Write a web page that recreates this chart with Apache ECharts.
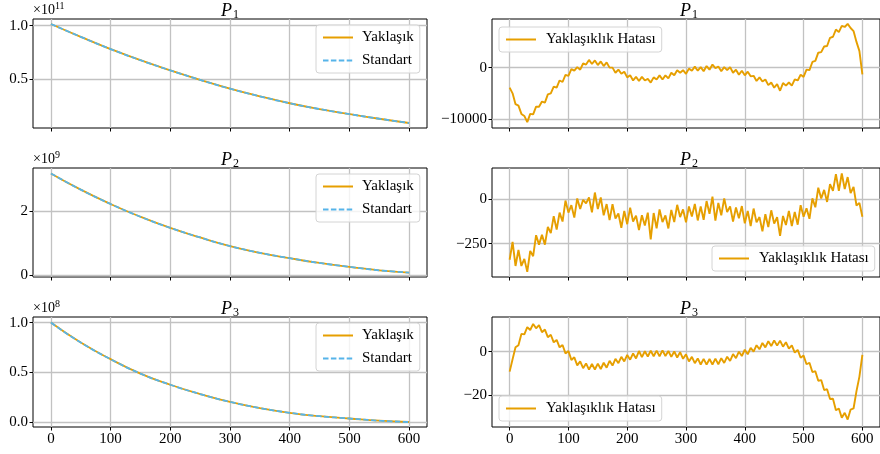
<!DOCTYPE html>
<html><head><meta charset="utf-8">
<script src="https://cdn.jsdelivr.net/npm/echarts@6/dist/echarts.min.js"></script>
<style>html,body{margin:0;padding:0;background:#fff}#c{width:880px;height:454px}</style>
</head><body><div id="c"></div><script>
// ---------- data ----------
const xDecay = [0,50,100,150,200,250,300,350,400,450,500,550,600];
// left column, values in units of the axis multiplier
const p1Approx   = [1.016,0.895,0.78,0.675,0.58,0.49,0.407,0.335,0.27,0.215,0.168,0.124,0.084];
const p1Standard = [1.016,0.895,0.78,0.675,0.58,0.49,0.407,0.335,0.27,0.215,0.168,0.124,0.084];
const p2Approx   = [3.19,2.68,2.23,1.83,1.48,1.18,0.91,0.70,0.53,0.38,0.26,0.15,0.08];
const p2Standard = [3.19,2.68,2.23,1.83,1.48,1.18,0.91,0.70,0.53,0.38,0.26,0.15,0.08];
const p3Approx   = [1.0,0.80,0.634,0.49,0.378,0.285,0.206,0.145,0.097,0.063,0.04,0.018,0.005];
const p3Standard = [1.0,0.80,0.634,0.49,0.378,0.285,0.206,0.145,0.097,0.063,0.04,0.018,0.005];
const multipliers = [['×10','11'],['×10','9'],['×10','8']];
const panelTitles = [['P','1'],['P','2'],['P','3']];
const xTicks = [0,100,200,300,400,500,600];
const errStep = 5;
const p1Err = [-3900,-5000,-7100,-7400,-9000,-9400,-10600,-9000,-9100,-7600,
 -7600,-6600,-6800,-5200,-5000,-3700,-3900,-2500,-2800,-1400,
 -1600,-300,-600,100,-400,800,600,1500,700,1400,
 500,1200,300,1000,0,0,-1000,-400,-1200,-800,
 -1900,-1500,-2500,-1800,-2600,-1800,-2500,-2200,-2900,-1900,
 -2300,-1500,-2300,-1500,-2100,-1000,-1500,-500,-1000,-500,
 -1200,-200,-600,200,-600,100,-700,300,-400,600,
 -100,200,-700,100,-500,100,-1000,-400,-1400,-600,
 -1500,-800,-1700,-1600,-2600,-1900,-2700,-2300,-3400,-2900,
 -3900,-3200,-4500,-3000,-3500,-2900,-3500,-2300,-2500,-1400,
 -1800,-400,-500,1100,1300,2900,3000,4100,4200,5800,
 6000,7400,6900,8100,7900,8500,7700,7100,5000,3200,
 -1300];
const p2Err = [-340,-240,-375,-285,-375,-335,-408,-290,-320,-202,
 -255,-200,-255,-155,-190,-95,-170,-75,-125,-7,
 -75,-33,-103,5,-55,-3,-23,10,-73,38,
 -55,10,-90,-27,-117,-27,-108,-80,-160,-66,
 -140,-47,-125,-92,-173,-90,-147,-75,-226,-77,
 -163,-57,-128,-91,-164,-60,-128,-31,-100,-57,
 -130,-40,-97,-26,-119,-40,-115,-10,-82,15,
 -120,-20,-90,5,-72,-40,-125,-46,-107,-38,
 -135,-65,-150,-52,-130,-100,-180,-84,-156,-62,
 -137,-101,-206,-94,-145,-65,-150,-71,-143,-33,
 -98,-50,-110,5,-45,65,5,53,-15,85,
 47,142,48,145,58,125,35,70,-35,-20,
 -98];
const p3Err = [-9.2,-3.5,2.0,3.0,8.2,8.0,11.3,10.0,12.8,10.8,
 12.3,9.0,10.2,6.7,7.8,4.3,5.4,2.0,3.1,-0.8,
 0.3,-3.8,-2.6,-6.3,-4.5,-7.6,-5.4,-8.3,-5.7,-8.2,
 -5.5,-8.0,-5.1,-7.4,-4.2,-6.4,-3.3,-5.3,-2.4,-4.5,
 -1.5,-3.7,-0.8,-3.1,0.3,-2.5,0.2,-2.2,0.4,-2.1,
 0.5,-2.2,0.6,-2.0,0.3,-2.4,0.1,-2.7,-0.2,-3.3,
 -1.2,-4.5,-2.4,-5.3,-3.1,-5.9,-3.3,-6.0,-3.4,-5.9,
 -3.2,-5.8,-3.0,-5.2,-2.3,-4.3,-1.1,-3.0,0.0,-2.0,
 0.9,-1.2,1.8,0.0,3.0,1.1,4.0,2.0,4.8,2.6,
 5.2,2.8,5.1,2.3,4.4,1.4,2.9,-0.4,0.8,-2.8,
 -1.8,-5.8,-5.1,-9.4,-9.0,-13.4,-13.1,-17.7,-17.3,-21.8,
 -21.7,-27.0,-26.2,-30.5,-28.2,-31.3,-26.7,-26.2,-18.2,-11.5,
 -1.5];
// y tick values per panel (left col, right col)
const yTicksLeft  = [[0.5,1.0],[0,2],[0.0,0.5,1.0]];
const yTicksRight = [[-10000,0],[-250,0],[-20,0]];
const approxSeries = [p1Approx,p2Approx,p3Approx];
const standardSeries = [p1Standard,p2Standard,p3Standard];
const errSeries = [p1Err,p2Err,p3Err];

// ---------- layout / style ----------
const FONT = 'Liberation Serif';
const ORANGE = '#E69F00', BLUE = '#56B4E9';
const rowTop = [19,168,317], rowH = [109,109,110];
const colLeft = [33,492], colW = 394;
const yRangeLeft  = [[0.037,1.063],[-0.06,3.36],[-0.045,1.056]];
const yRangeRight = [[-11740,9450],[-437,176],[-34.75,16]];
const yFmtLeft = [v=>v.toFixed(1), v=>String(v), v=>v.toFixed(1)];
const minus = v => String(v).replace('-', '\u2212');

const pairs = (xs, ys) => ys.map((y,i)=>[xs[i],y]);
const errPairs = ys => ys.map((y,i)=>[i*errStep,y]);

const grid=[], xAxis=[], yAxis=[], series=[], legend=[], graphic=[];
const split = {show:true, lineStyle:{color:'#c2c2c2', width:1.3}};
const hiddenSymbol = {color:'rgba(0,0,0,0)', borderWidth:0, opacity:0};
for (let r=0;r<3;r++){
  for (let c=0;c<2;c++){
    const gi = grid.length;
    grid.push({left:colLeft[c], top:rowTop[r], width:colW, height:rowH[r], show:true,
      borderColor:'#000', borderWidth:1, backgroundColor:'transparent', containLabel:false});
    xAxis.push({type:'value', gridIndex:gi, min:-30, max:630, position:'bottom',
      axisLine:{show:false, onZero:false},
      axisTick:{show:true, length:3.5, lineStyle:{color:'#000', width:1}, customValues:xTicks},
      axisLabel:{show:r===2, customValues:xTicks, fontFamily:FONT, fontSize:15, color:'#000', margin:5},
      splitLine:split});
    const rng = c===0 ? yRangeLeft[r] : yRangeRight[r];
    const ticks = c===0 ? yTicksLeft[r] : yTicksRight[r];
    yAxis.push({type:'value', gridIndex:gi, min:rng[0], max:rng[1], position:'left',
      axisLine:{show:false, onZero:false},
      axisTick:{show:true, length:3.5, lineStyle:{color:'#000', width:1}, customValues:ticks},
      axisLabel:{show:true, customValues:ticks, fontFamily:FONT, fontSize:15, color:'#000', margin:5,
        formatter: c===0 ? yFmtLeft[r] : (v=>minus(v))},
      splitLine:split});
    if (c===0){
      series.push({name:'Yaklaşık', type:'line', xAxisIndex:gi, yAxisIndex:gi, symbol:'none', smooth:true,
        data:pairs(xDecay, approxSeries[r]), lineStyle:{color:ORANGE, width:1.8}, itemStyle:{color:ORANGE}, z:3});
      series.push({name:'Standart', type:'line', xAxisIndex:gi, yAxisIndex:gi, symbol:'none', smooth:true,
        data:pairs(xDecay, standardSeries[r]), lineStyle:{color:BLUE, width:1.8, type:[5.5,2.4]}, itemStyle:{color:BLUE}, z:4});
      legend.push({data:['Yaklaşık','Standart'], orient:'vertical', left:316, top:rowTop[r]+6,
        itemWidth:30, itemHeight:12, itemGap:8, padding:[5,6,5,6], itemStyle:hiddenSymbol,
        backgroundColor:'rgba(255,255,255,0.8)', borderColor:'#d4d4d4', borderWidth:1, borderRadius:3,
        textStyle:{fontFamily:FONT, fontSize:15, color:'#000', padding:[0,0,0,4]}, selectedMode:false});
    } else {
      series.push({name:'Yaklaşıklık Hatası', type:'line', xAxisIndex:gi, yAxisIndex:gi, symbol:'none',
        data:errPairs(errSeries[r]), lineStyle:{color:ORANGE, width:1.9}, itemStyle:{color:ORANGE}, z:3});
      const lg = {data:['Yaklaşıklık Hatası'], orient:'vertical',
        itemWidth:30, itemHeight:12, padding:[5,6,5,6], itemStyle:hiddenSymbol,
        backgroundColor:'rgba(255,255,255,0.8)', borderColor:'#d4d4d4', borderWidth:1, borderRadius:3,
        textStyle:{fontFamily:FONT, fontSize:15, color:'#000', padding:[0,0,0,5]}, selectedMode:false};
      if (r===0){ lg.left=499; lg.top=27; }
      else if (r===1){ lg.left=712; lg.top=246; }
      else { lg.left=499; lg.top=396; }
      legend.push(lg);
    }
    // panel title
    graphic.push({type:'text', x:colLeft[c]+(c===1?358/2+18:colW/2), y:rowTop[r]-8, z:10,
      style:{text:'{i|'+panelTitles[r][0]+'}{s|'+panelTitles[r][1]+'}', align:'center', verticalAlign:'middle',
        rich:{i:{fontFamily:FONT, fontStyle:'italic', fontSize:18, fill:'#000'},
              s:{fontFamily:FONT, fontSize:12, fill:'#000', padding:[8,0,0,1]}}}});
    if (c===0){
      graphic.push({type:'text', x:colLeft[0], y:rowTop[r]-9, z:10,
        style:{text:'{b|'+multipliers[r][0]+'}{e|'+multipliers[r][1]+'}', align:'left', verticalAlign:'middle',
          rich:{b:{fontFamily:FONT, fontSize:14, fill:'#000'},
                e:{fontFamily:FONT, fontSize:10, fill:'#000', padding:[0,0,7,0]}}}});
    }
  }
}

const chart = echarts.init(document.getElementById('c'), null, {renderer:'canvas'});
chart.setOption({animation:false, backgroundColor:'#fff', grid, xAxis, yAxis, series, legend, graphic});
</script></body></html>
